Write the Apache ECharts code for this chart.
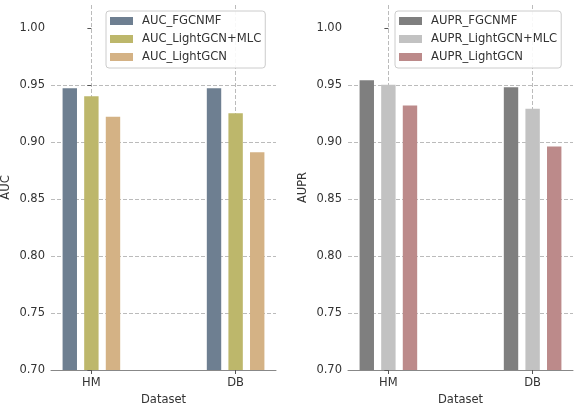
<!DOCTYPE html>
<html>
<head>
<meta charset="utf-8">
<title>AUC / AUPR</title>
<script src="https://cdn.jsdelivr.net/npm/echarts@6/dist/echarts.min.js"></script>
<style>
  html, body { margin: 0; padding: 0; background: #fff; }
  #main { width: 579px; height: 408px; }
</style>
</head>
<body>
<div id="main"></div>
<script>
// datasets on the x axis (placed at 0 and 1)
var datasets = ['HM', 'DB'];
var yTicks = [0.70, 0.75, 0.80, 0.85, 0.90, 0.95, 1.00];

// AUC panel
var aucNames = ['AUC_FGCNMF', 'AUC_LightGCN+MLC', 'AUC_LightGCN'];
var aucFGCNMF = [0.947, 0.947];
var aucLightGCNMLC = [0.940, 0.925];
var aucLightGCN = [0.922, 0.891];

// AUPR panel
var auprNames = ['AUPR_FGCNMF', 'AUPR_LightGCN+MLC', 'AUPR_LightGCN'];
var auprFGCNMF = [0.954, 0.948];
var auprLightGCNMLC = [0.950, 0.929];
var auprLightGCN = [0.932, 0.896];

var aucColors = ['#6e7f91', '#bdb76b', '#d4b285'];
var auprColors = ['#7f7f7f', '#c2c2c2', '#bc8a8a'];

var font = 'DejaVu Sans';
var textColor = '#333';

function pts(vals) {
  return vals.map(function (v, i) { return [i, v]; });
}

function xAxis(idx) {
  return {
    type: 'value', gridIndex: idx, min: -0.28, max: 1.28,
    name: 'Dataset', nameLocation: 'middle', nameGap: 24,
    nameTextStyle: { fontFamily: font, fontSize: 11.5, color: textColor },
    axisLine: { show: true, lineStyle: { color: '#888', width: 1 } },
    axisTick: { show: true, length: 4, lineStyle: { color: '#555' }, customValues: [0, 1] },
    axisLabel: {
      customValues: [0, 1], margin: 7,
      fontFamily: font, fontSize: 11.5, color: textColor,
      formatter: function (v) { return datasets[Math.round(v)]; }
    },
    splitLine: { show: true, lineStyle: { color: '#bbb', type: [4, 2], width: 1 } }
  };
}

function yAxis(idx, name) {
  return {
    type: 'value', gridIndex: idx, min: 0.70, max: 1.02,
    name: name, nameLocation: 'middle', nameGap: 39,
    nameTextStyle: { fontFamily: font, fontSize: 11.5, color: textColor },
    axisLine: { show: false },
    axisTick: { show: true, length: 4, lineStyle: { color: '#555' }, customValues: yTicks },
    axisLabel: {
      customValues: yTicks, margin: 6,
      fontFamily: font, fontSize: 11.5, color: textColor,
      formatter: function (v) { return v.toFixed(2); }
    },
    splitLine: { show: true, showMinLine: false, showMaxLine: false,
      lineStyle: { color: '#bbb', type: [4, 2], width: 1 } }
  };
}

function bar(name, vals, color, idx) {
  return {
    name: name, type: 'bar', xAxisIndex: idx, yAxisIndex: idx,
    data: pts(vals), barWidth: 14.4, barGap: '50%',
    itemStyle: { color: color }
  };
}

function legend(names, left) {
  return {
    data: names, orient: 'vertical', left: left, top: 11,
    itemWidth: 23, itemHeight: 8, itemGap: 6, icon: 'rect',
    backgroundColor: 'rgba(255,255,255,0.9)', borderColor: '#ccc', borderWidth: 1,
    borderRadius: 3, padding: [4, 4, 5, 4],
    textStyle: { fontFamily: font, fontSize: 11.6, color: textColor, padding: [0, 0, 0, 4] }
  };
}

var chart = echarts.init(document.getElementById('main'), null, { renderer: 'canvas' });
chart.setOption({
  animation: false,
  backgroundColor: '#fff',
  grid: [
    { left: 51, right: 303, top: 5, bottom: 38, outerBoundsMode: 'none' },
    { left: 348, right: 6, top: 5, bottom: 38, outerBoundsMode: 'none' }
  ],
  legend: [legend(aucNames, 106), legend(auprNames, 395)],
  xAxis: [xAxis(0), xAxis(1)],
  yAxis: [yAxis(0, 'AUC'), yAxis(1, 'AUPR')],
  series: [
    bar(aucNames[0], aucFGCNMF, aucColors[0], 0),
    bar(aucNames[1], aucLightGCNMLC, aucColors[1], 0),
    bar(aucNames[2], aucLightGCN, aucColors[2], 0),
    bar(auprNames[0], auprFGCNMF, auprColors[0], 1),
    bar(auprNames[1], auprLightGCNMLC, auprColors[1], 1),
    bar(auprNames[2], auprLightGCN, auprColors[2], 1)
  ]
});
</script>
</body>
</html>
